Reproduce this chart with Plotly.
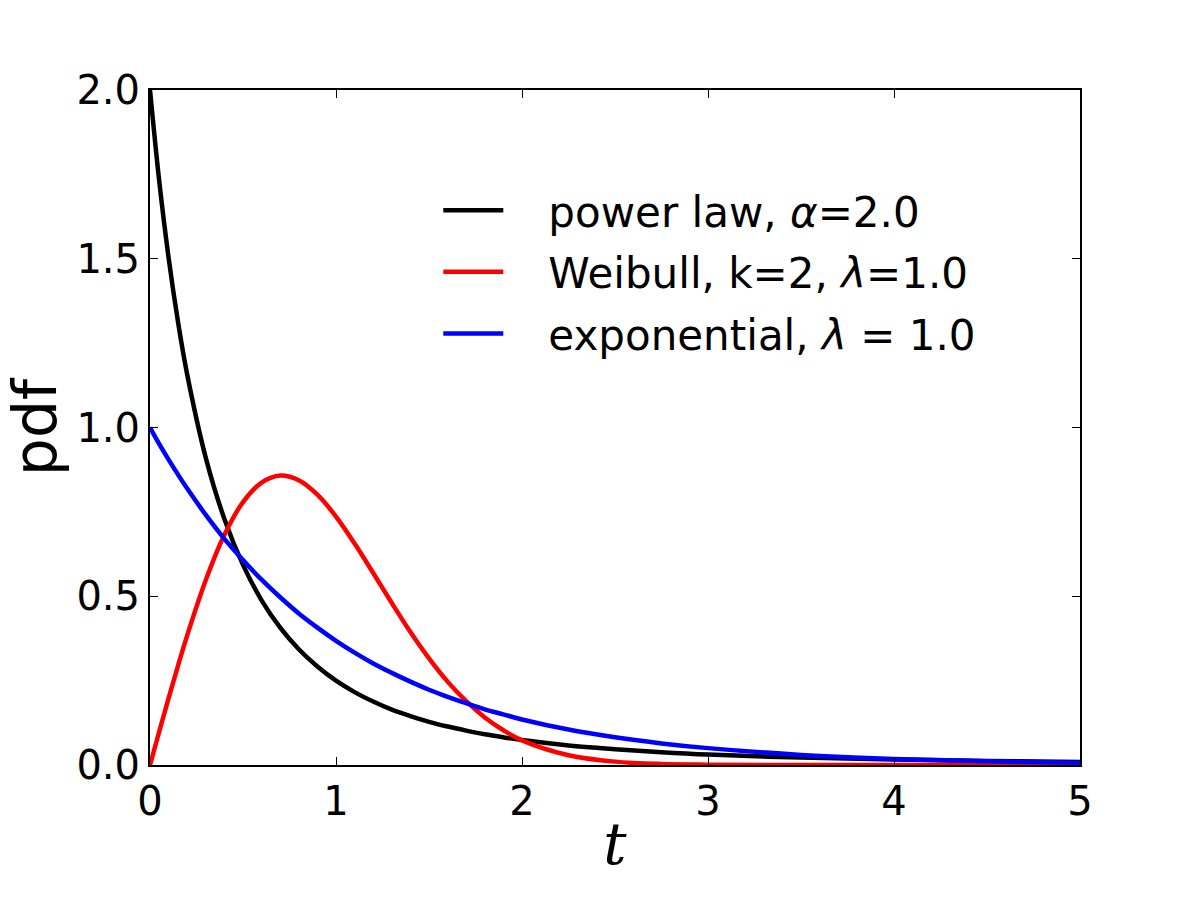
import plotly.graph_objects as go

# t grid (read positions along x)
t = [0, 0.05, 0.1, 0.15, 0.2, 0.3, 0.4, 0.5, 0.6, 0.7, 0.8, 0.9, 1.0, 1.1, 1.2, 1.3,
     1.4, 1.5, 1.6, 1.7, 1.8, 1.9, 2.0, 2.25, 2.5, 2.75, 3.0, 3.5, 4.0, 4.5, 5.0]

power_law = [2.0, 1.728, 1.503, 1.315, 1.157, 0.910, 0.729, 0.593, 0.488, 0.407, 0.343,
             0.292, 0.250, 0.216, 0.188, 0.164, 0.145, 0.128, 0.114, 0.102, 0.091, 0.082,
             0.074, 0.058, 0.047, 0.038, 0.031, 0.022, 0.016, 0.012, 0.009]

weibull = [0.0, 0.100, 0.198, 0.293, 0.384, 0.548, 0.682, 0.779, 0.837, 0.858, 0.844,
           0.801, 0.736, 0.656, 0.569, 0.480, 0.394, 0.316, 0.247, 0.189, 0.141, 0.103,
           0.073, 0.029, 0.010, 0.003, 0.001, 0.0, 0.0, 0.0, 0.0]

exponential = [1.0, 0.951, 0.905, 0.861, 0.819, 0.741, 0.670, 0.607, 0.549, 0.497, 0.449,
               0.407, 0.368, 0.333, 0.301, 0.273, 0.247, 0.223, 0.202, 0.183, 0.165, 0.150,
               0.135, 0.105, 0.082, 0.064, 0.050, 0.030, 0.018, 0.011, 0.007]

series_names = ["power law, <i>α</i>=2.0", "Weibull, k=2, <i>λ</i>=1.0", "exponential, <i>λ</i> = 1.0"]
series_values = [power_law, weibull, exponential]
series_colors = ["#000000", "#ff0000", "#0000ff"]

x_ticks = [0, 1, 2, 3, 4, 5]
y_ticks = [0.0, 0.5, 1.0, 1.5, 2.0]

gap = "&nbsp;" * 3

fig = go.Figure()
for i, (name, vals, col) in enumerate(zip(series_names, series_values, series_colors)):
    fig.add_trace(go.Scatter(x=t, y=vals, mode="lines", name=gap + name,
                             legendgroup=f"g{i}",
                             line=dict(color=col, width=4.5, shape="spline", smoothing=1.0)))

font_family = "DejaVu Sans"
fig.update_layout(
    width=1200, height=900,
    margin=dict(l=150, r=120, t=90, b=135),
    paper_bgcolor="white", plot_bgcolor="white",
    font=dict(family=font_family, color="black", size=40),
    showlegend=True,
    legend=dict(x=0.31, y=0.872, xanchor="left", yanchor="top",
                bgcolor="rgba(0,0,0,0)", borderwidth=0,
                font=dict(size=42, family=font_family),
                itemwidth=60, tracegroupgap=4),
    xaxis=dict(range=[0, 5], tickvals=x_ticks, ticktext=[str(v) for v in x_ticks],
               ticks="inside", ticklen=8, tickwidth=1, tickcolor="black",
               showline=True, linecolor="black", linewidth=2, mirror="ticks",
               showgrid=False, zeroline=False,
               tickfont=dict(size=40, family=font_family),
               title=dict(text="<i>t</i>", font=dict(size=58, family="DejaVu Serif"), standoff=0)),
    yaxis=dict(range=[0, 2], tickvals=y_ticks, ticktext=[f"{v:.1f}" for v in y_ticks],
               ticks="inside", ticklen=8, tickwidth=1, tickcolor="black",
               showline=True, linecolor="black", linewidth=2, mirror="ticks",
               showgrid=False, zeroline=False,
               tickfont=dict(size=40, family=font_family),
               title=dict(text="pdf", font=dict(size=60, family=font_family), standoff=6)),
)

fig.write_html("out.html")
